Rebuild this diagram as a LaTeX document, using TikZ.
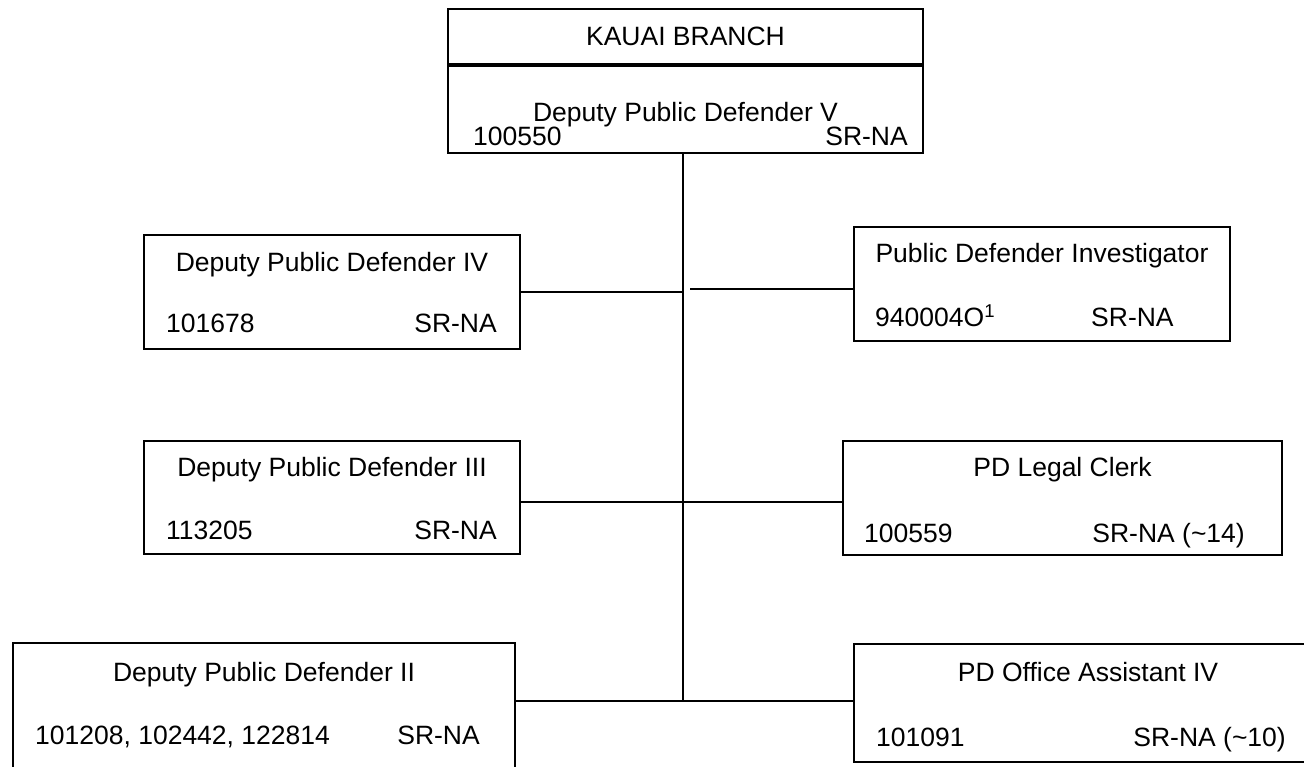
\documentclass[tikz,border=0pt]{standalone}
\usepackage{fontspec}
\setmainfont{Liberation Sans}
\usetikzlibrary{calc,positioning}

\tikzset{
    post/.style={draw, line width=2pt, inner sep=0pt},
    lbl/.style={font=\fontsize{26.5}{30}\selectfont, inner sep=0pt, text height=19pt, text depth=0pt},
    link/.style={line width=2pt},
}

\begin{document}
\begin{tikzpicture}[x=1pt, y=-1pt]
    \useasboundingbox (0,0) rectangle (1304,767);
    \clip (0,0) rectangle (1304,767);

    \node[post, minimum width=475pt, minimum height=55pt] (kauai) at (685.5,36.5) {};
    \node[post, minimum width=475pt, minimum height=87pt, below=0pt of kauai] (chief) {};
    \node[lbl] (branch) at (kauai) {KAUAI BRANCH};
    \node[lbl] (chieftitle) at (685.5,112) {Deputy Public Defender V};
    \node[lbl, anchor=west] (chiefid) at (473,136) {100550};
    \node[lbl, anchor=east] (chiefsr) at (908,136) {SR-NA};

    \node[post, minimum width=376pt, minimum height=114pt] (dpd4) at (332,292) {};
    \node[lbl] (dpd4title) at (332,262) {Deputy Public Defender IV};
    \node[lbl, anchor=west] (dpd4id) at (166,323) {101678};
    \node[lbl, anchor=east] (dpd4sr) at (497,323) {SR-NA};

    \node[post, minimum width=376pt, minimum height=114pt] (pdi) at (1042,284) {};
    \node[lbl] (pdititle) at (1042,253) {Public Defender Investigator};
    \node[lbl, anchor=west] (pdiid) at (875,317) {940004O\textsuperscript{1}};
    \node[lbl, anchor=west] (pdisr) at (1091,317) {SR-NA};

    \node[post, minimum width=376pt, minimum height=113pt] (dpd3) at (332,497) {};
    \node[lbl] (dpd3title) at (332,467) {Deputy Public Defender III};
    \node[lbl, anchor=west] (dpd3id) at (166,530) {113205};
    \node[lbl, anchor=east] (dpd3sr) at (497,530) {SR-NA};

    \node[post, minimum width=439pt, minimum height=114pt] (clerk) at (1062.5,498) {};
    \node[lbl] (clerktitle) at (1062.5,467) {PD Legal Clerk};
    \node[lbl, anchor=west] (clerkid) at (864,533) {100559};
    \node[lbl, anchor=east] (clerksr) at (1245,533) {SR-NA (\textasciitilde14)};

    \node[post, minimum width=502pt, minimum height=146pt] (dpd2) at (264,716) {};
    \node[lbl] (dpd2title) at (264,672) {Deputy Public Defender II};
    \node[lbl, anchor=west] (dpd2id) at (35,735) {101208, 102442, 122814};
    \node[lbl, anchor=east] (dpd2sr) at (480,735) {SR-NA};

    \node[post, minimum width=468pt, minimum height=118pt] (oasst) at (1088,703) {};
    \node[lbl] (oassttitle) at (1088,672) {PD Office Assistant IV};
    \node[lbl, anchor=west] (oasstid) at (876,737) {101091};
    \node[lbl, anchor=east] (oasstsr) at (1286,737) {SR-NA (\textasciitilde10)};

    \coordinate (spine) at (683,701);
    \coordinate (gap) at (690,289);
    \coordinate (row2) at (683,502);

    \draw[link] (chief.south -| spine) -- (spine);
    \draw[link] (dpd4.east) -- (dpd4.east -| spine);
    \draw[link] (gap) -- (gap -| pdi.west);
    \draw[link] (row2 -| dpd3.east) -- (row2 -| clerk.west);
    \draw[link] (spine -| dpd2.east) -- (spine -| oasst.west);

\end{tikzpicture}
\end{document}
